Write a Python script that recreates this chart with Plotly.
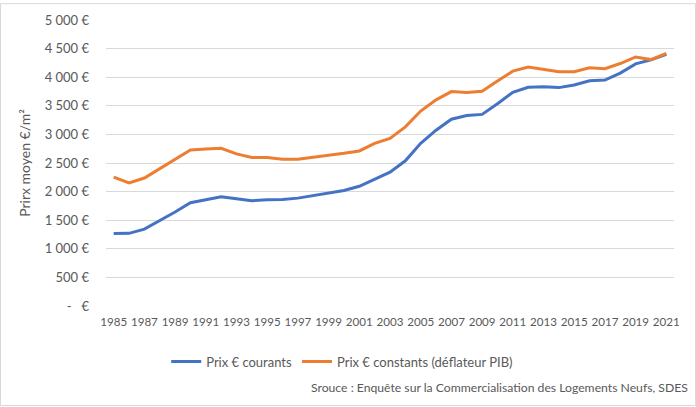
import plotly.graph_objects as go

years = list(range(1985, 2022))
prix_courants = [1268, 1270, 1345, 1488, 1643, 1805, 1863, 1909, 1874, 1842, 1857, 1863, 1886, 1932, 1967, 2019,
                 2093, 2220, 2341, 2538, 2843, 3074, 3265, 3330, 3350, 3535, 3737, 3824, 3835, 3818, 3864, 3939,
                 3950, 4071, 4233, 4302, 4400]
prix_constants = [2254, 2151, 2237, 2400, 2555, 2728, 2745, 2756, 2659, 2595, 2595, 2566, 2566, 2607, 2635, 2670,
                  2711, 2843, 2929, 3131, 3408, 3604, 3749, 3732, 3754, 3933, 4106, 4176, 4141, 4095, 4095, 4164,
                  4147, 4239, 4354, 4308, 4417]
y_ticks = [0, 500, 1000, 1500, 2000, 2500, 3000, 3500, 4000, 4500, 5000]
y_ticktext = ["-\u00a0\u00a0\u00a0€"] + [f"{v:,}".replace(",", "\u00a0") + "\u00a0€" for v in y_ticks[1:]]
x_tickvals = [str(y) for y in range(1985, 2022, 2)]

gray = "#595959"
font_family = "Lato, 'Open Sans', sans-serif"

fig = go.Figure()
fig.add_trace(go.Scatter(x=[str(y) for y in years], y=prix_courants, mode="lines",
                         name="Prix € courants", line=dict(color="#4472C4", width=3)))
fig.add_trace(go.Scatter(x=[str(y) for y in years], y=prix_constants, mode="lines",
                         name="Prix € constants (déflateur PIB)", line=dict(color="#ED7D31", width=3)))

fig.update_layout(
    width=696, height=407,
    margin=dict(l=106, r=22, t=17, b=101),
    paper_bgcolor="white", plot_bgcolor="white",
    font=dict(family=font_family, size=12, color=gray),
    showlegend=True,
    legend=dict(orientation="h", x=0.106, xanchor="left", y=-0.194, yanchor="middle",
                font=dict(size=13, color=gray), bgcolor="rgba(0,0,0,0)"),
    xaxis=dict(type="category", tickmode="array", tickvals=x_tickvals, ticktext=x_tickvals,
               showgrid=False, showline=False, zeroline=False, ticks="", ticklabelstandoff=7,
               tickangle=0, tickfont=dict(size=11.6, color=gray), range=[-0.5, 36.5]),
    yaxis=dict(range=[0, 5000], tickmode="array", tickvals=y_ticks, ticktext=y_ticktext,
               showgrid=True, gridcolor="#D9D9D9", gridwidth=1, zeroline=False, showline=False,
               ticks="", ticklabelstandoff=16, tickfont=dict(size=13, color=gray),
               title=dict(text="Prirx moyen €/m²", font=dict(size=14, color=gray), standoff=10)),
    annotations=[dict(text="Srouce : Enquête sur la Commercialisation des Logements Neufs, SDES",
                      xref="paper", yref="paper", x=1.028, y=-0.284, xanchor="right", yanchor="middle",
                      showarrow=False, font=dict(size=12.2, color=gray))],
    shapes=[dict(type="rect", xref="paper", yref="paper",
                 x0=-105.5 / 568, x1=1 + 21.5 / 568, y0=-100.5 / 289, y1=1 + 16.5 / 289,
                 line=dict(color="#D9D9D9", width=1), fillcolor="rgba(0,0,0,0)", layer="below")],
)
fig.write_html("out.html")
